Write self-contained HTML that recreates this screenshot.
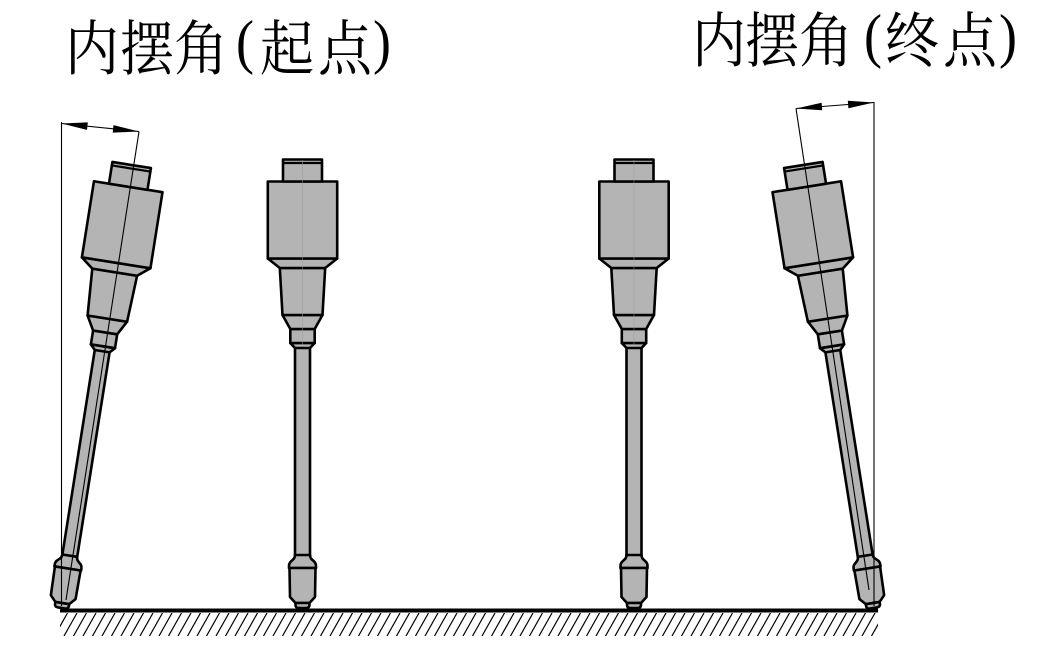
<!DOCTYPE html>
<html>
<head>
<meta charset="utf-8">
<style>
html,body{margin:0;padding:0;background:#fff;}
svg{display:block;}
</style>
</head>
<body>
<svg width="1042" height="645" viewBox="0 0 1042 645" xmlns="http://www.w3.org/2000/svg">
<defs>
<clipPath id="hc"><rect x="60" y="613" width="818" height="23"/></clipPath>
<g id="tool" fill="#b4b4b4" stroke="#000" stroke-width="2.6" stroke-linejoin="round">
  <path d="M-7.5,-262 V-48 H7.5 V-262 Z"/>
  <path d="M-7.5,-53 C-7.5,-47 -13.5,-48 -13.5,-42 V-40 H13.5 V-42 C13.5,-48 7.5,-47 7.5,-53 Z"/>
  <path d="M-13,-40 L-12.5,-11 L-7,-5 H7 L12.5,-11 L13,-40 Z"/>
  <path d="M-7,-5 V-3 Q-7,0 -3.5,0 H3.5 Q7,0 7,-3 V-5 Z"/>
  <path d="M-12.2,-265 H12.2 L7.5,-260 H-7.5 Z"/>
  <path d="M-12.2,-279 H12.2 V-265 H-12.2 Z"/>
  <path d="M-20,-293 H20 L12.2,-279 H-12.2 Z"/>
  <path d="M-22.7,-340 H22.7 L20,-293 H-20 Z"/>
  <path d="M-34.7,-349.5 H34.7 L22.7,-340 H-22.7 Z"/>
  <path d="M-34.7,-426.5 H34.7 V-349.5 H-34.7 Z"/>
  <path d="M-19.5,-448.5 H19.5 V-426.5 H-19.5 Z"/>
  <path d="M-19.5,-445 H19.5" fill="none" stroke-width="2.2"/>
</g>
</defs>

<!-- hatching -->
<g clip-path="url(#hc)" stroke="#000" stroke-width="1.2">
  <path d="M45,636 l13,-23 M54.5,636 l13,-23 M64,636 l13,-23 M73.5,636 l13,-23 M83,636 l13,-23 M92.5,636 l13,-23 M102,636 l13,-23 M111.5,636 l13,-23 M121,636 l13,-23 M130.5,636 l13,-23 M140,636 l13,-23 M149.5,636 l13,-23 M159,636 l13,-23 M168.5,636 l13,-23 M178,636 l13,-23 M187.5,636 l13,-23 M197,636 l13,-23 M206.5,636 l13,-23 M216,636 l13,-23 M225.5,636 l13,-23 M235,636 l13,-23 M244.5,636 l13,-23 M254,636 l13,-23 M263.5,636 l13,-23 M273,636 l13,-23 M282.5,636 l13,-23 M292,636 l13,-23 M301.5,636 l13,-23 M311,636 l13,-23 M320.5,636 l13,-23 M330,636 l13,-23 M339.5,636 l13,-23 M349,636 l13,-23 M358.5,636 l13,-23 M368,636 l13,-23 M377.5,636 l13,-23 M387,636 l13,-23 M396.5,636 l13,-23 M406,636 l13,-23 M415.5,636 l13,-23 M425,636 l13,-23 M434.5,636 l13,-23 M444,636 l13,-23 M453.5,636 l13,-23 M463,636 l13,-23 M472.5,636 l13,-23 M482,636 l13,-23 M491.5,636 l13,-23 M501,636 l13,-23 M510.5,636 l13,-23 M520,636 l13,-23 M529.5,636 l13,-23 M539,636 l13,-23 M548.5,636 l13,-23 M558,636 l13,-23 M567.5,636 l13,-23 M577,636 l13,-23 M586.5,636 l13,-23 M596,636 l13,-23 M605.5,636 l13,-23 M615,636 l13,-23 M624.5,636 l13,-23 M634,636 l13,-23 M643.5,636 l13,-23 M653,636 l13,-23 M662.5,636 l13,-23 M672,636 l13,-23 M681.5,636 l13,-23 M691,636 l13,-23 M700.5,636 l13,-23 M710,636 l13,-23 M719.5,636 l13,-23 M729,636 l13,-23 M738.5,636 l13,-23 M748,636 l13,-23 M757.5,636 l13,-23 M767,636 l13,-23 M776.5,636 l13,-23 M786,636 l13,-23 M795.5,636 l13,-23 M805,636 l13,-23 M814.5,636 l13,-23 M824,636 l13,-23 M833.5,636 l13,-23 M843,636 l13,-23 M852.5,636 l13,-23 M862,636 l13,-23 M871.5,636 l13,-23"/>
</g>

<!-- ground line -->
<line x1="60" y1="610.5" x2="878" y2="610.5" stroke="#000" stroke-width="4"/>

<!-- tools -->
<use href="#tool" transform="translate(302.5,608)"/>
<use href="#tool" transform="translate(634,608)"/>
<use href="#tool" transform="translate(61.5,608) rotate(9)"/>
<use href="#tool" transform="translate(873.5,608) rotate(-9)"/>

<!-- faint center lines on vertical tools -->
<g stroke="#9a9a9a" stroke-width="0.5">
  <line x1="302.5" y1="160" x2="302.5" y2="345"/>
  <line x1="634" y1="160" x2="634" y2="345"/>
</g>

<!-- reference & dimension lines -->
<g stroke="#000" stroke-width="1.1" fill="none">
  <line x1="61.5" y1="122" x2="61.5" y2="606"/>
  <line x1="139" y1="131.5" x2="66" y2="600"/>
  <line x1="61.5" y1="123.5" x2="139" y2="131.5"/>
  <line x1="874" y1="102" x2="874" y2="606"/>
  <line x1="796" y1="108.5" x2="869" y2="590"/>
  <line x1="796" y1="108.5" x2="874" y2="102.5"/>
</g>
<g fill="#000">
  <polygon points="61.5,123.5 87.0,129.9 87.8,122.4"/>
  <polygon points="139,131.5 112.7,132.6 113.5,125.1"/>
  <polygon points="796,108.5 822.2,110.3 821.6,102.7"/>
  <polygon points="874,102.5 848.4,108.3 847.8,100.7"/>
</g>

<!-- labels -->
<g font-family="'Liberation Serif', 'Noto Serif CJK SC', serif" font-size="60" fill="#000" transform="scale(0.9,1)">
  <text x="72.2 133.3 193.3 262.2 288.9 353.3 414.4" y="70 70 70 62 70 70 62">内摆角(起点)</text>
  <text x="768.9 827.8 887.8 960 983.3 1047.8 1110" y="62 62 62 56 62 62 56">内摆角(终点)</text>
</g>
</svg>
</body>
</html>
